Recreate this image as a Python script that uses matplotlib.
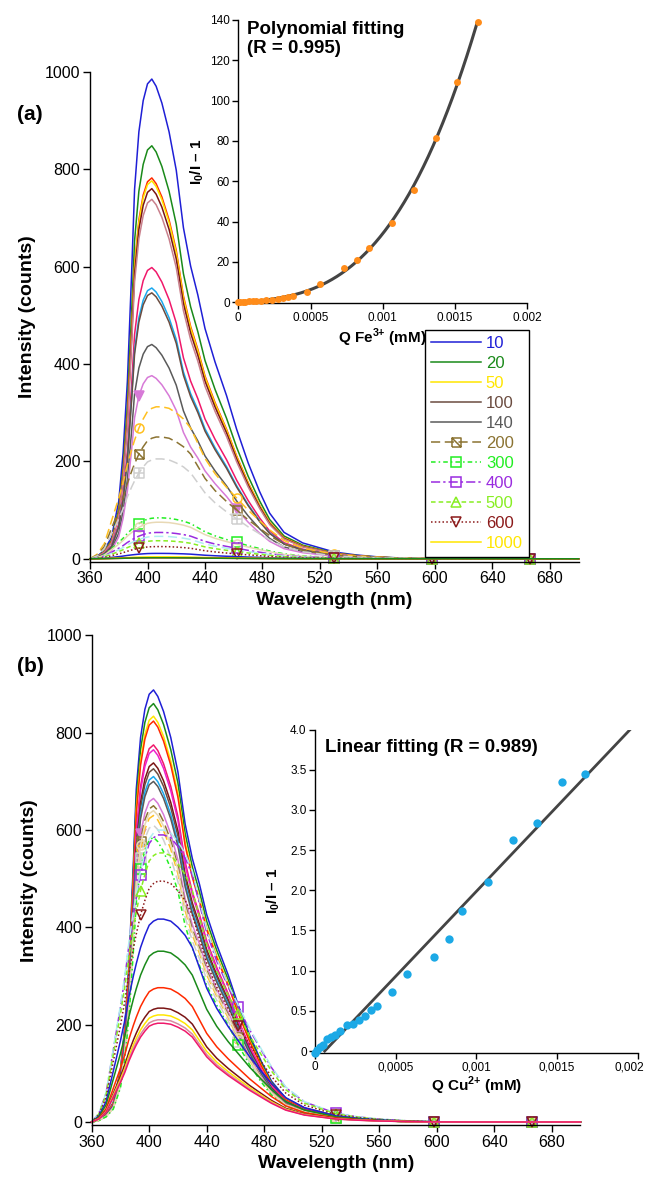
"""Fluorescence quenching spectra of the probe with Fe3+ (a) and Cu2+ (b), with Stern-Volmer insets."""
import matplotlib
matplotlib.use("Agg")
import matplotlib.pyplot as plt
import numpy as np
from matplotlib.path import Path
from matplotlib.transforms import ScaledTranslation

plt.rcParams["font.family"] = ["Liberation Sans", "DejaVu Sans"]
plt.rcParams["mathtext.fontset"] = "custom"
plt.rcParams["mathtext.rm"] = "Liberation Sans"
plt.rcParams["mathtext.bf"] = "Liberation Sans:bold"

# ---- spectra: wavelength grid and normalised band shapes
WAVELENGTH = [360, 365, 370, 375, 380, 383, 386, 389, 391, 394, 397, 400, 403, 406, 410,
              415, 420, 425, 430, 435, 440, 447, 455, 462, 470, 478, 485, 495, 508, 530,
              545, 560, 580, 598, 620, 640, 666, 685, 700]
SHAPE_SHARP = [0.0, 0.005, 0.018, 0.045, 0.12, 0.22, 0.37, 0.60, 0.77, 0.89, 0.955, 0.99, 1.0, 0.985, 0.95,
               0.89, 0.81, 0.69, 0.61, 0.55, 0.48, 0.41, 0.34, 0.27, 0.20, 0.14, 0.095, 0.055, 0.033, 0.014,
               0.008, 0.004, 0.001, 0.0, 0.0, 0.0, 0.0, 0.0, 0.0]
SHAPE_BROAD = [0.0, 0.03, 0.10, 0.25, 0.40, 0.50, 0.62, 0.72, 0.78, 0.86, 0.92, 0.97, 0.99, 1.0, 1.0,
               0.99, 0.96, 0.92, 0.86, 0.76, 0.66, 0.56, 0.47, 0.40, 0.32, 0.25, 0.19, 0.12, 0.07, 0.03,
               0.018, 0.01, 0.004, 0.001, 0.0, 0.0, 0.0, 0.0, 0.0]
MARK_AT = [394, 462, 530, 598, 666]

# custom Igor-like markers
SQ_DIAG = Path([(-1, -1), (1, -1), (1, 1), (-1, 1), (-1, -1), (-1, 1), (1, -1)],
               [Path.MOVETO, Path.LINETO, Path.LINETO, Path.LINETO, Path.LINETO, Path.MOVETO, Path.LINETO])
SQ_PLUS = Path([(-1, -1), (1, -1), (1, 1), (-1, 1), (-1, -1), (0, -1), (0, 1), (-1, 0), (1, 0)],
               [Path.MOVETO, Path.LINETO, Path.LINETO, Path.LINETO, Path.LINETO,
                Path.MOVETO, Path.LINETO, Path.MOVETO, Path.LINETO])

# ---- panel (a): Fe3+
A_PEAK = [985, 848, 782, 776, 760, 738, 598, 556, 546, 440, 376, 312, 250, 205,
          84, 75, 54, 46, 37, 25, 11, 4, 2, 2]
A_COLOR = ["#1f1fd6", "#1a8a1a", "#ff2a00", "#ffe600", "#7a1414", "#c9808c", "#f0186a", "#1aa8ee",
           "#6b4c40", "#5a5a5a", "#d77ad7", "#ffc020", "#8b7332", "#cfcfcf",
           "#22ee22", "#e8d9b5", "#9a2be0", "#b0eef0", "#88ee22", "#8b1a1a", "#1f1fd6", "#ffe600",
           "#ff2a00", "#1a8a1a"]
A_STYLE = ["-", "-", "-", "-", "-", "-", "-", "-", "-", "-", "-", "dash", "dash", "dash",
           "dashdotsm", "-", "dashdot", "dash", "dashsm", "dot", "-", "-", "-", "-"]
A_MARKER = ["", "", "", "", "", "", "", "", "", "", "vf", "o", "sqd", "sqp",
            "s", "o", "s", "", "^", "v", "", "", "", ""]
A_SHAPE = ["s"] * 11 + ["b"] * 13
A_LABEL = ["10", "20", "", "50", "", "", "", "", "100", "140", "", "", "200", "",
           "300", "", "400", "", "500", "600", "", "1000", "", ""]
LEGEND_ORDER = ["10", "20", "50", "100", "140", "200", "300", "400", "500", "600", "1000"]

# ---- panel (b): Cu2+
B_PEAK = [888, 860, 834, 824, 775, 765, 738, 726, 710, 700, 665, 650, 630, 610, 640,
          585, 590, 600, 553, 495, 417, 351, 276, 234, 220, 210, 203]
B_COLOR = ["#1f1fd6", "#1a8a1a", "#ffe600", "#ff2a00", "#f0186a", "#ee22cc", "#7a1414", "#6b4c40",
           "#1aa8ee", "#5a5a5a", "#d77ad7", "#8b7332", "#ffc020", "#cfcfcf", "#e8d9b5",
           "#22ee22", "#9a2be0", "#b0eef0", "#88ee22", "#8b1a1a", "#1f1fd6", "#1a8a1a", "#ff2a00",
           "#7a1414", "#ffe600", "#d98aa0", "#f0186a"]
B_STYLE = ["-"] * 11 + ["dash", "dash", "dash", "-", "dashdotsm", "dashdot", "dash", "dashsm", "dot",
                        "-", "-", "-", "-", "-", "-", "-"]
B_MARKER = [""] * 10 + ["vf", "sqd", "o", "sqp", "o", "s", "s", "", "^", "v"] + [""] * 7
B_SHAPE = ["s"] * 16 + ["b"] * 11

# ---- insets: Stern-Volmer data
Q_FE = [0, 0.00001, 0.00003, 0.00005, 0.000075, 0.0001, 0.000125, 0.000155, 0.000195, 0.000235,
        0.000275, 0.00031, 0.000345, 0.00038, 0.000474, 0.000563, 0.000733, 0.000821, 0.000905,
        0.001063, 0.001219, 0.001365, 0.001514, 0.001656]
SV_FE = [0, 0.1, 0.2, 0.3, 0.4, 0.5, 0.6, 0.7, 0.9, 1.2, 1.6, 2.1, 2.6, 3.3, 5.1, 9.1, 16.8, 21.1,
         26.9, 39.1, 55.5, 81.7, 109, 138.8]
Q_CU = [0, 0.00001, 0.000031, 0.000052, 0.000076, 0.000101, 0.000124, 0.000155, 0.000196, 0.000233,
        0.000275, 0.000312, 0.000345, 0.000386, 0.000479, 0.000568, 0.00074, 0.000829, 0.000913,
        0.001072, 0.001229, 0.001378, 0.001529, 0.001674]
SV_CU = [-0.02, 0.01, 0.05, 0.08, 0.15, 0.17, 0.20, 0.25, 0.32, 0.34, 0.39, 0.44, 0.51, 0.56, 0.73,
         0.96, 1.17, 1.39, 1.74, 2.10, 2.63, 2.84, 3.35, 3.45]

DASHES = {"dash": (0, (6, 3)), "dashsm": (0, (3, 2)), "dashdot": (0, (6, 2, 1.5, 2)),
          "dashdotsm": (0, (3, 2, 1, 2)), "dot": (0, (1, 1.5))}
MARKERS = {"vf": "v", "o": "o", "s": "s", "^": "^", "v": "v", "sqd": SQ_DIAG, "sqp": SQ_PLUS}


def _draw_spectra(ax, peaks, colors, styles, markers, shapes, labels=None):
    wl = np.array(WAVELENGTH)
    mark_idx = [WAVELENGTH.index(w) for w in MARK_AT]
    handles = {}
    for i, peak in enumerate(peaks):
        shape = np.array(SHAPE_SHARP if shapes[i] == "s" else SHAPE_BROAD)
        ls = DASHES.get(styles[i], "-")
        kw = dict(color=colors[i], lw=1.1, ls=ls)
        m = markers[i]
        if m:
            kw.update(marker=MARKERS[m], markevery=mark_idx, ms=6.5, mew=1.1,
                      mec=colors[i], mfc=colors[i] if m == "vf" else "none")
        (line,) = ax.plot(wl, peak * shape, clip_on=False, **kw)
        if labels and labels[i]:
            handles[labels[i]] = line
    return handles


def _style_main(ax):
    ax.set_xlim(360, 700)
    ax.set_ylim(-6, 1000)
    ax.set_xticks(range(360, 700, 40))
    ax.set_yticks(range(0, 1001, 200))
    for s in ("top", "right"):
        ax.spines[s].set_visible(False)
    for s in ("left", "bottom"):
        ax.spines[s].set_linewidth(1.0)
    ax.tick_params(direction="out", length=5, width=1, labelsize=11.5, pad=2)
    ax.set_xlabel("Wavelength (nm)", fontsize=14, fontweight="bold", labelpad=4)
    ax.set_ylabel("Intensity (counts)", fontsize=14, fontweight="bold", labelpad=6)


def _style_inset(ax):
    for s in ("top", "right"):
        ax.spines[s].set_visible(False)
    for s in ("left", "bottom"):
        ax.spines[s].set_linewidth(1.0)
    ax.set_facecolor("none")
    ax.tick_params(direction="out", length=4, width=1, labelsize=8.5, pad=2)


fig = plt.figure(figsize=(6.48, 11.82), dpi=100)

# panel (a)
ax_a = fig.add_axes([0.1389, 0.5248, 0.7542, 0.4145])
handles = _draw_spectra(ax_a, A_PEAK, A_COLOR, A_STYLE, A_MARKER, A_SHAPE, A_LABEL)
_style_main(ax_a)
fig.text(30 / 648, 1 - 115 / 1182, "(a)", fontsize=15, fontweight="bold", ha="center", va="center")

leg = ax_a.legend([handles[k] for k in LEGEND_ORDER], LEGEND_ORDER, loc="upper left",
                  bbox_to_anchor=(425 / 648, 1 - 330 / 1182), bbox_transform=fig.transFigure,
                  fontsize=12, handlelength=3.0, handletextpad=0.3, labelspacing=0.3,
                  borderpad=0.35, borderaxespad=0, numpoints=1, fancybox=False, framealpha=1,
                  edgecolor="black")
leg.get_frame().set_linewidth(1.0)
for txt, key in zip(leg.get_texts(), LEGEND_ORDER):
    txt.set_color(handles[key].get_color())

ins_a = fig.add_axes([0.3677, 0.7434, 0.4460, 0.2397])
coef_fe = np.polyfit(Q_FE, SV_FE, 3)
q_fit = np.linspace(0, Q_FE[-1], 200)
ins_a.plot(q_fit, np.polyval(coef_fe, q_fit), color="#444444", lw=2.2, zorder=2)
ins_a.plot(Q_FE, SV_FE, "o", color="#ff8c1a", ms=5, mec="none", zorder=3, clip_on=False)
ins_a.set_xlim(0, 0.002)
ins_a.set_ylim(-0.5, 140)
ins_a.set_xticks([0, 0.0005, 0.001, 0.0015, 0.002])
ins_a.set_xticklabels(["0", "0.0005", "0.001", "0.0015", "0.002"])
ins_a.set_yticks(range(0, 141, 20))
_style_inset(ins_a)
ins_a.set_xlabel("Q Fe$^{\\mathbf{3{+}}}$ (mM)", fontsize=11, fontweight="bold", labelpad=2)
ins_a.set_ylabel("I$_{\\mathbf{0}}$/I \u2013 1", fontsize=11, fontweight="bold", labelpad=3)
ins_a.text(0.03, 0.995, "Polynomial fitting\n(R = 0.995)", transform=ins_a.transAxes,
           fontsize=13.5, fontweight="bold", ha="left", va="top", linespacing=1.1)

# panel (b)
ax_b = fig.add_axes([0.1415, 0.0483, 0.7542, 0.4141])
_draw_spectra(ax_b, B_PEAK, B_COLOR, B_STYLE, B_MARKER, B_SHAPE)
_style_main(ax_b)
fig.text(30 / 648, 1 - 667 / 1182, "(b)", fontsize=15, fontweight="bold", ha="center", va="center")

ins_b = fig.add_axes([0.4861, 0.1094, 0.4980, 0.2734])
slope, intercept = np.polyfit(Q_CU, SV_CU, 1)
x_line = np.array([-intercept / slope, (4.0 - intercept) / slope])
ins_b.plot(x_line, slope * x_line + intercept, color="#444444", lw=2.0, zorder=2)
ins_b.plot(Q_CU, SV_CU, "o", color="#1ca9e6", ms=6, mec="none", zorder=3, clip_on=False)
ins_b.set_xlim(0, 0.002)
ins_b.set_ylim(-0.02, 4.0)
ins_b.set_xticks([0, 0.0005, 0.001, 0.0015, 0.002])
ins_b.set_xticklabels(["0", "0,0005", "0,001", "0,0015", "0,002"])
ins_b.set_yticks(np.arange(0, 4.01, 0.5))
ins_b.set_yticklabels(["0", "0.5", "1.0", "1.5", "2.0", "2.5", "3.0", "3.5", "4.0"])
_style_inset(ins_b)
last = ins_b.get_xticklabels()[-1]
last.set_transform(last.get_transform() + ScaledTranslation(-8 / 100, 0, fig.dpi_scale_trans))
ins_b.set_xlabel("Q Cu$^{\\mathbf{2{+}}}$ (mM)", fontsize=11, fontweight="bold", labelpad=1)
ins_b.set_ylabel("I$_{\\mathbf{0}}$/I \u2013 1", fontsize=11, fontweight="bold", labelpad=6)
ins_b.text(0.03, 0.943, "Linear fitting (R = 0.989)", transform=ins_b.transAxes,
           fontsize=13.5, fontweight="bold", ha="left", va="center")

fig.savefig("out.png", dpi=100)
